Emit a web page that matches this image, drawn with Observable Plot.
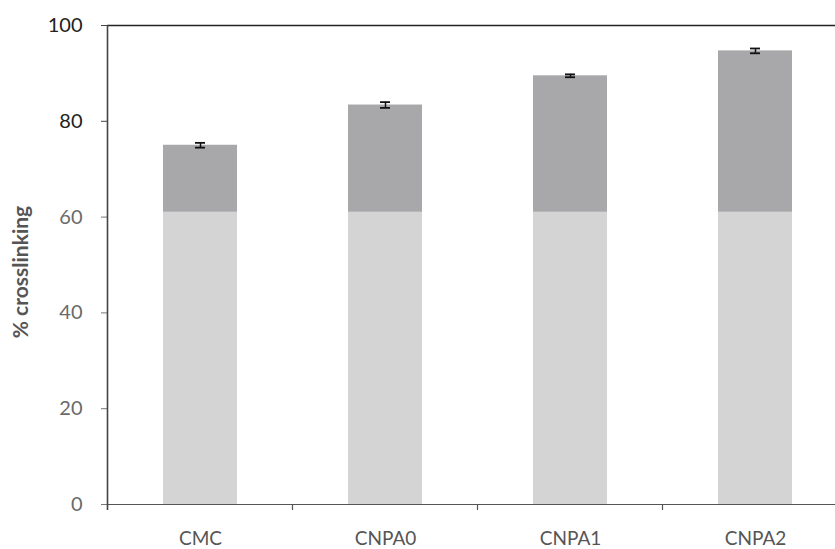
<!DOCTYPE html>
<html>
<head>
<meta charset="utf-8">
<script src="https://cdn.jsdelivr.net/npm/d3@7"></script>
<script src="https://cdn.jsdelivr.net/npm/@observablehq/plot@0.6"></script>
<style>
  html, body { margin: 0; padding: 0; background: #fff; }
  #chart svg { display: block; overflow: visible; }
</style>
</head>
<body>
<div id="chart"></div>
<script>
const categories = ["CMC", "CNPA0", "CNPA1", "CNPA2"];
const values = [75.0, 83.4, 89.5, 94.7];
const errors = [0.5, 0.6, 0.3, 0.5];
const lowerLevel = [61, 61, 61, 61];
const yTicks = [0, 20, 40, 60, 80, 100];

const data = categories.map((c, i) => ({
  cat: c, value: values[i], err: errors[i], low: lowerLevel[i]
}));

const font = "Lato, 'Open Sans', sans-serif";

// custom mark: left axis line and x tick marks at band boundaries, from the scales
const axisLines = (index, scales, values_, dims) => {
  const x = scales.x, y = scales.y;
  const step = x.step ? x.step() : x.bandwidth();
  const bw = x.bandwidth();
  const g = d3.create("svg:g");
  const y0 = y(0);
  const xLeft = x(categories[0]) - (step - bw) / 2;
  g.append("line")
    .attr("x1", xLeft).attr("x2", xLeft)
    .attr("y1", y(100)).attr("y2", y0 + 6)
    .attr("stroke", "#444").attr("stroke-width", 1.6);
  categories.forEach((c) => {
    const xb = x(c) + bw + (step - bw) / 2;
    g.append("line")
      .attr("x1", xb).attr("x2", xb)
      .attr("y1", y0).attr("y2", y0 + 6)
      .attr("stroke", "#555").attr("stroke-width", 1.2);
  });
  return g.node();
};

const chart = Plot.plot({
  width: 835,
  height: 549,
  marginLeft: 107,
  marginRight: 0,
  marginTop: 25,
  marginBottom: 45,
  style: { fontFamily: font, background: "#fff", overflow: "visible" },
  x: { domain: categories, range: [107, 847], paddingInner: 0.6, paddingOuter: 0.3, label: null },
  y: { domain: [0, 100], label: null },
  marks: [
    Plot.barY(data, { x: "cat", y1: 0, y2: "low", fill: "#d4d4d5" }),
    Plot.barY(data, { x: "cat", y1: "low", y2: "value", fill: "#a8a8aa" }),
    Plot.ruleX(data, { x: "cat", y1: d => d.value - d.err, y2: d => d.value + d.err, stroke: "#111", strokeWidth: 1.5 }),
    Plot.tickY(data, { x: "cat", y: d => d.value - d.err, stroke: "#111", strokeWidth: 1.8, insetLeft: 32, insetRight: 32 }),
    Plot.tickY(data, { x: "cat", y: d => d.value + d.err, stroke: "#111", strokeWidth: 1.8, insetLeft: 32, insetRight: 32 }),
    Plot.ruleY([0], { stroke: "#555", strokeWidth: 1.2 }),
    Plot.ruleY([100], { stroke: "#222", strokeWidth: 1.5 }),
    Plot.axisY({ ticks: yTicks.filter(t => t >= 80), tickSize: 6, tickPadding: 19, fontSize: 20, fill: "#222", stroke: "#444", label: null }),
    Plot.axisY({ ticks: yTicks.filter(t => t < 80), tickSize: 6, tickPadding: 19, fontSize: 20, fill: "#6a6a6a", stroke: "#777", label: null }),
    Plot.axisX({ tickSize: 0, tickPadding: 27, fontSize: 19, fill: "#555", label: null }),
    axisLines,
    Plot.text(["% crosslinking"], {
      frameAnchor: "left", textAnchor: "middle", dx: -86, dy: 7, rotate: -90, fontSize: 21, fontWeight: "bold", fill: "#555"
    })
  ]
});

document.getElementById("chart").appendChild(chart);
</script>
</body>
</html>
